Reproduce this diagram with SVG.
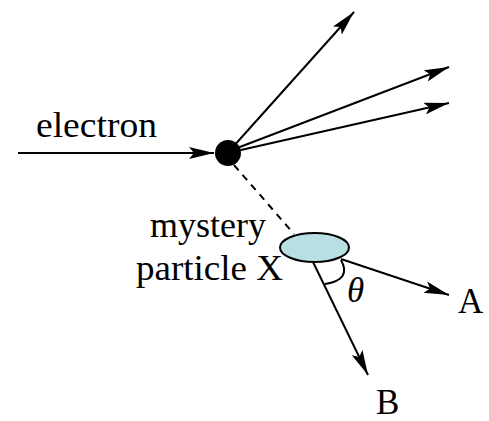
<svg xmlns="http://www.w3.org/2000/svg" width="489" height="421" viewBox="0 0 489 421">
<style>
.t{font-family:"Liberation Serif","Times New Roman",serif;font-size:35px;fill:#000}
.l{stroke:#000;stroke-width:2;fill:none}
</style>
<defs>
<marker id="ah" viewBox="0 0 25 12" refX="25" refY="6" markerWidth="25" markerHeight="12" markerUnits="userSpaceOnUse" orient="auto">
<path d="M0,0 L25,6 L0,12 L5,6 Z" fill="#000"/>
</marker>
</defs>
<g id="connectors">
<line class="l" x1="18" y1="153" x2="214" y2="153" marker-end="url(#ah)"/>
<line class="l" x1="232" y1="148" x2="354" y2="12" marker-end="url(#ah)"/>
<line class="l" x1="232" y1="150" x2="449" y2="67" marker-end="url(#ah)"/>
<line class="l" x1="232" y1="152" x2="449" y2="103" marker-end="url(#ah)"/>
<line class="l" x1="234" y1="165" x2="294" y2="234" stroke-dasharray="7,6"/>
<line class="l" x1="341" y1="259" x2="449" y2="295" marker-end="url(#ah)"/>
<line class="l" x1="313" y1="262" x2="368" y2="375" marker-end="url(#ah)"/>
<path class="l" d="M341,260 Q352,280 325,284"/>
</g>
<g id="electron-vertex"><circle cx="228" cy="153" r="13" fill="#000"/></g>
<g id="particle-x"><ellipse cx="314.5" cy="247.5" rx="34.5" ry="14.5" fill="#b8e0e4" stroke="#000" stroke-width="2"/></g>
<g id="labels">
<text class="t" x="36" y="137" textLength="121" lengthAdjust="spacingAndGlyphs">electron</text>
<text class="t" x="150" y="237" textLength="116" lengthAdjust="spacingAndGlyphs">mystery</text>
<text class="t" x="136" y="280" textLength="147" lengthAdjust="spacingAndGlyphs">particle X</text>
<text class="t" x="347" y="302" font-style="italic">θ</text>
<text class="t" x="458" y="313">A</text>
<text class="t" x="376" y="414">B</text>
</g>
</svg>
